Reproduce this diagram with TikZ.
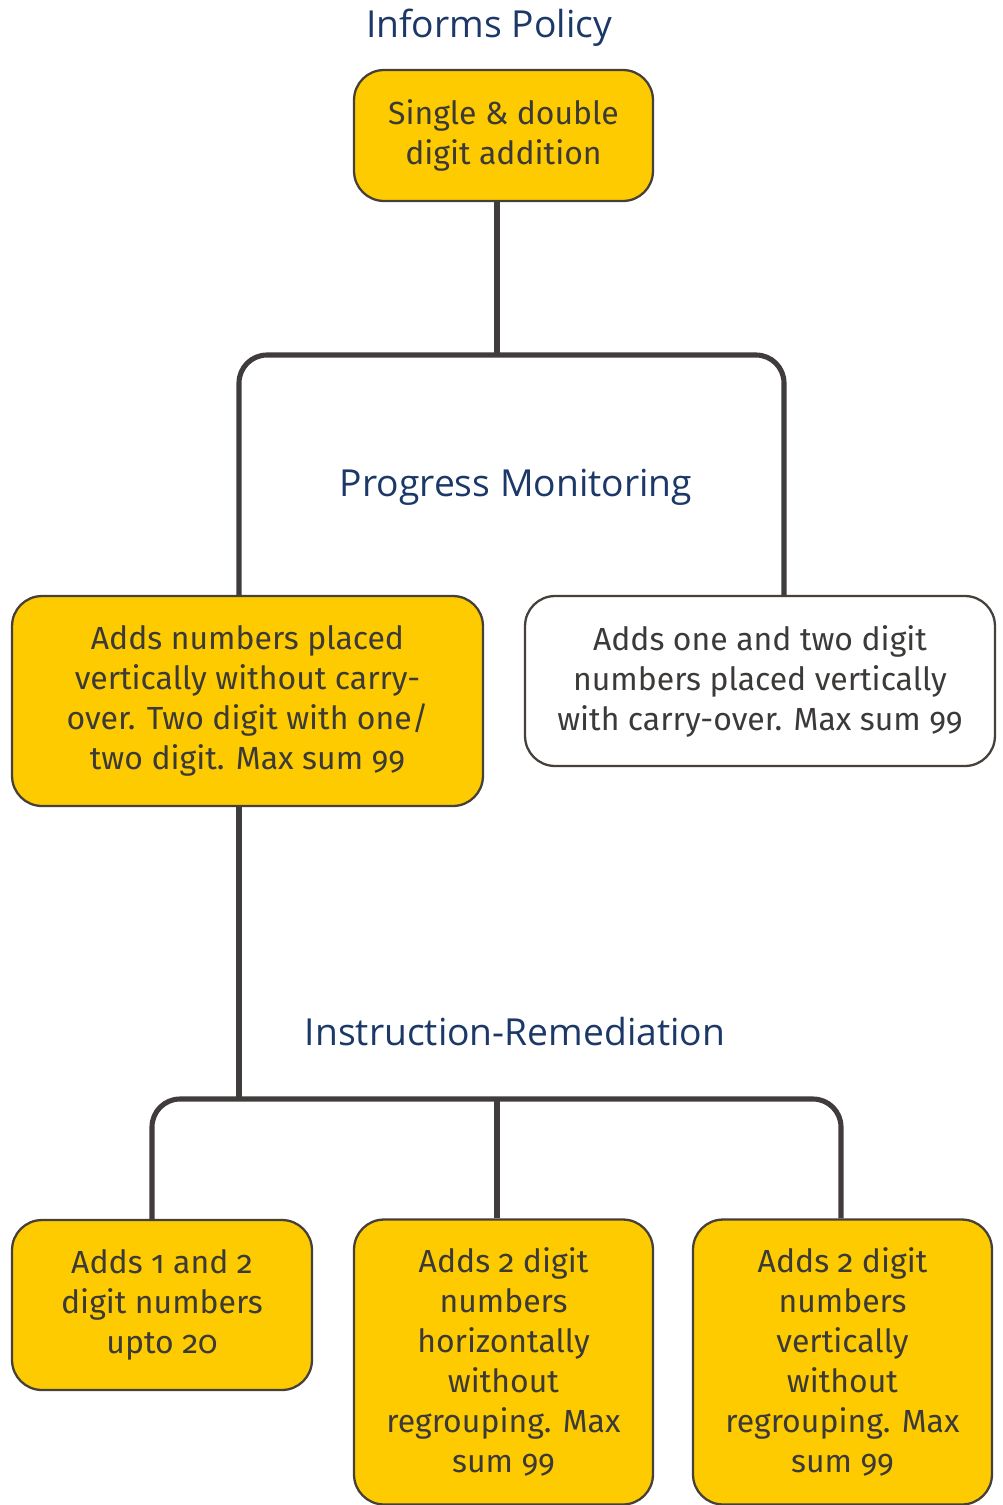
\documentclass[tikz,border=0pt]{standalone}
\usepackage{fontspec}
\setmainfont{Fira Sans}[Numbers=OldStyle]
\newfontfamily\headfont{Open Sans}
\usetikzlibrary{positioning,calc,backgrounds}
\definecolor{cardyellow}{RGB}{254,203,0}
\definecolor{cardedge}{RGB}{69,64,59}
\definecolor{cardtext}{RGB}{60,58,56}
\definecolor{headnavy}{RGB}{27,56,104}
\definecolor{linkgray}{RGB}{64,60,60}

\begin{document}
\begin{tikzpicture}[x=0.02cm, y=-0.02cm,
        card/.style={rectangle, rounded corners=0.6cm, draw=cardedge, line width=1.3pt,
            fill=cardyellow, text=cardtext, align=center, inner sep=0pt,
            font=\fontsize{18.2}{22.76}\selectfont},
        plaincard/.style={card, fill=white},
        heading/.style={text=headnavy, font=\headfont\fontsize{21.2}{24}\selectfont},
        link/.style={draw=linkgray, line width=2.9pt, rounded corners=0.56cm}
    ]
        \useasboundingbox (0,0) rectangle (1002,1505);

        % Headings
        \node[heading] (hpolicy) at (489,28) {Informs Policy};
        \node[heading] (hmonitor) at (516,487) {Progress Monitoring};
        \node[heading] (hremedy) at (515,1032) {Instruction-Remediation};

        % Cards
        \node[card, minimum width=5.98cm, minimum height=2.62cm] (policy) at (503.5,135.5)
            {Single \& double\\digit addition};
        \node[card, minimum width=9.42cm, minimum height=4.2cm] (nocarry) at (247.5,701)
            {Adds numbers placed\\vertically without carry-\\over. Two digit with one/\\two digit. Max sum 99};
        \node[plaincard, minimum width=9.4cm, minimum height=3.4cm] (withcarry) at (760,681)
            {Adds one and two digit\\numbers placed vertically\\with carry-over. Max sum 99};
        \node[card, minimum width=6cm, minimum height=3.4cm] (upto20) at (162,1305)
            {Adds 1 and 2\\digit numbers\\upto 20};
        \node[card, minimum width=5.98cm, minimum height=5.7cm] (horiz) at (503.5,1362)
            {Adds 2 digit\\numbers\\horizontally\\without\\regrouping. Max\\sum 99};
        \node[card, minimum width=5.98cm, minimum height=5.7cm] (vert) at (842.5,1362)
            {Adds 2 digit\\numbers\\vertically\\without\\regrouping. Max\\sum 99};

        % Branch points
        \coordinate (hub1) at (497,355);
        \coordinate (hub2) at (239,1099);

        % Connectors
        \begin{scope}[on background layer]
            \draw[link] (policy.south -| hub1) -- (hub1);
            \draw[link] (nocarry.north -| hub2) |- (hub1) -| ($(withcarry.north)+(24,0)$);
            \draw[link] (nocarry.south -| hub2) -- (hub2);
            \draw[link] ($(upto20.north)+(-10,0)$) |- (hub2) -| ($(vert.north)+(-1.5,0)$);
            \draw[link] ($(horiz.north)+(-6.5,0)$) -- ($(horiz.north |- hub2)+(-6.5,0)$);
        \end{scope}

    \end{tikzpicture}
\end{document}
